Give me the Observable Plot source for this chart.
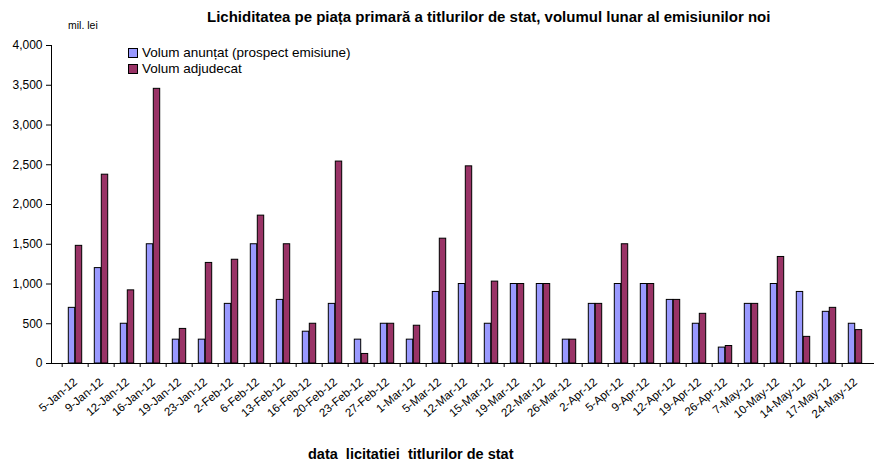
<!DOCTYPE html>
<html><head><meta charset="utf-8">
<script src="https://cdn.jsdelivr.net/npm/d3@7"></script>
<script src="https://cdn.jsdelivr.net/npm/@observablehq/plot@0.6"></script>
<style>
body{margin:0;background:#fff;font-family:"Liberation Sans",Arial,sans-serif;}
#wrap{position:relative;width:874px;height:464px;overflow:hidden;}
#chart{position:absolute;left:0;top:0;}
.abs{position:absolute;white-space:pre;color:#000;}
.sw{display:inline-block;width:8px;height:8px;border:1px solid #000;vertical-align:-1px;margin-right:4px;}
</style></head>
<body>
<div id="wrap">
  <div id="chart"></div>
  <div class="abs" style="left:207px;top:8px;font-size:15px;font-weight:bold;">Lichiditatea pe piața primară a titlurilor de stat, volumul lunar al emisiunilor noi</div>
  <div class="abs" style="left:68px;top:19px;font-size:10.5px;">mil. lei</div>
  <div class="abs" style="left:128px;top:45px;font-size:13.5px;line-height:15.5px;"><div><span class="sw" style="background:#9999FF"></span>Volum anunțat (prospect emisiune)</div><div><span class="sw" style="background:#993366"></span>Volum adjudecat</div></div>
  <div class="abs" style="left:308px;top:446px;font-size:14.5px;font-weight:bold;">data  licitatiei  titlurilor de stat</div>
</div>
<script>
const dates = ["5-Jan-12","9-Jan-12","12-Jan-12","16-Jan-12","19-Jan-12","23-Jan-12","2-Feb-12","6-Feb-12","13-Feb-12","16-Feb-12","20-Feb-12","23-Feb-12","27-Feb-12","1-Mar-12","5-Mar-12","12-Mar-12","15-Mar-12","19-Mar-12","22-Mar-12","26-Mar-12","2-Apr-12","5-Apr-12","9-Apr-12","12-Apr-12","19-Apr-12","26-Apr-12","7-May-12","10-May-12","14-May-12","17-May-12","24-May-12"];
const anuntat = [700,1200,500,1500,300,300,750,1500,800,400,750,300,500,300,900,1000,500,1000,1000,300,750,1000,1000,800,500,200,750,1000,900,650,500];
const adjudecat = [1480,2375,920,3455,435,1265,1305,1860,1500,500,2540,120,500,475,1570,2480,1030,1000,1000,300,750,1500,1000,800,625,220,750,1340,335,700,420];
const yTicks = [0,500,1000,1500,2000,2500,3000,3500,4000];

const rows = dates.map((d,i)=>({date:d, anuntat:anuntat[i], adjudecat:adjudecat[i]}));
const fmt = d3.format(",");
const half = 826.7/31/2;

const chart = Plot.plot({
  width: 874, height: 464,
  marginLeft: 51, marginRight: -4, marginTop: 45, marginBottom: 101,
  style: {fontFamily: "'Liberation Sans', Arial, sans-serif", fontSize: "12px", background: "transparent", overflow: "visible"},
  x: {type: "band", domain: dates, padding: 0, label: null, axis: null},
  y: {domain: [0, 4000], label: null, axis: null},
  marks: [
    Plot.barY(rows, {x: "date", y: "anuntat", fill: "#9999FF", stroke: "#000", strokeWidth: 1, insetLeft: 6.3, insetRight: 13.3}),
    Plot.barY(rows, {x: "date", y: "adjudecat", fill: "#993366", stroke: "#000", strokeWidth: 1, insetLeft: 13.3, insetRight: 6.3}),
    Plot.axisY({ticks: yTicks, tickFormat: fmt, tickSize: 5, tickPadding: 4, label: null, fontSize: 12}),
    Plot.axisX({tickSize: 4, dx: -half, tickFormat: () => "", label: null}),
    Plot.axisX({tickSize: 0, tickRotate: -40, tickPadding: 17, label: null, fontSize: 11.5}),
    Plot.ruleY([0]),
    Plot.frame({anchor: "left"})
  ]
});
document.getElementById("chart").appendChild(chart);
</script>
</body></html>
